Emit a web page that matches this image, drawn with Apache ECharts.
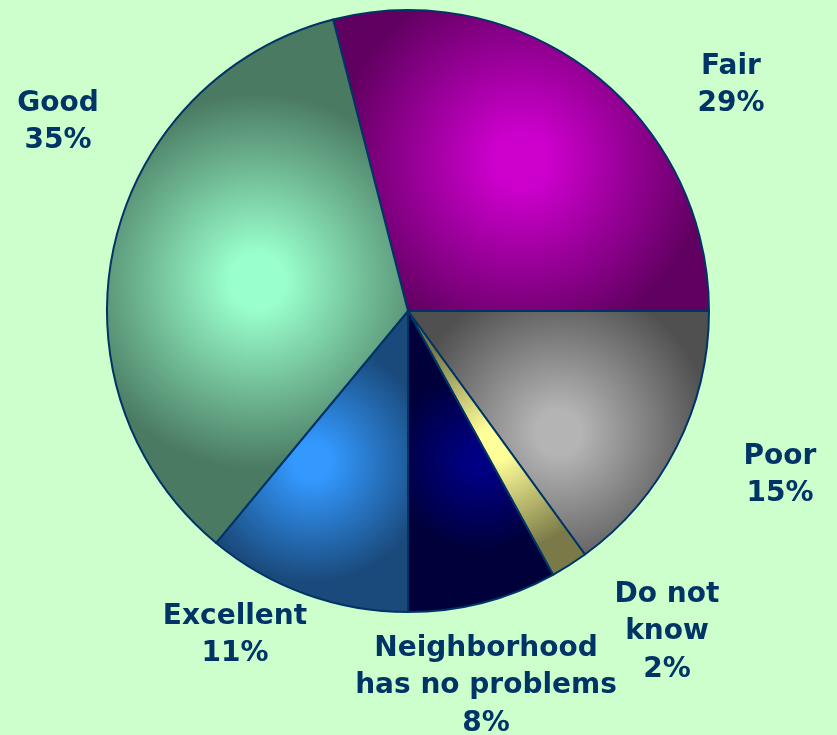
<!DOCTYPE html>
<html>
<head>
<meta charset="utf-8">
<script src="https://cdn.jsdelivr.net/npm/echarts@6/dist/echarts.min.js"></script>
<style>
html,body{margin:0;padding:0;background:#ccffcc;}
#chart{width:837px;height:735px;}
</style>
</head>
<body>
<div id="chart"></div>
<script>
// Data
var categories = ['Fair', 'Poor', 'Do not\nknow', 'Neighborhood\nhas no problems', 'Excellent', 'Good'];
var values = [29, 15, 2, 8, 11, 35];

// Styles (not data)
var centerColors = ['#cc00cc', '#b4b4b4', '#ffff99', '#000082', '#3399ff', '#99ffcc'];
var edgeColors   = ['#600060', '#505050', '#7a7a48', '#00003a', '#1a4a7c', '#4a7a62'];
var labelPos = [[731, 85], [780, 475], [667, 632], [486, 686], [235, 635], [58, 122]];

var chart = echarts.init(document.getElementById('chart'));

var data = categories.map(function (c, i) {
  return {
    name: c,
    value: values[i],
    itemStyle: {
      color: {
        type: 'radial', x: 0.5, y: 0.5, r: 0.62,
        colorStops: [
          { offset: 0, color: centerColors[i] },
          { offset: 0.15, color: centerColors[i] },
          { offset: 1, color: edgeColors[i] }
        ]
      }
    }
  };
});

chart.setOption({
  backgroundColor: '#ccffcc',
  animation: false,
  series: [{
    type: 'pie',
    center: [408, 311],
    radius: 301,
    startAngle: 104.4,
    clockwise: true,
    data: data,
    itemStyle: { borderColor: '#003366', borderWidth: 2 },
    label: {
      show: true,
      position: 'outside',
      formatter: '{b}\n{c}%',
      color: '#003366',
      fontFamily: 'DejaVu Sans',
      fontWeight: 'bold',
      fontSize: 28,
      lineHeight: 37.5,
      align: 'center',
      overflow: 'none'
    },
    labelLine: { show: false },
    labelLayout: function (p) {
      var pos = labelPos[p.dataIndex];
      return { x: pos[0], y: pos[1], align: 'center', verticalAlign: 'middle' };
    },
    emphasis: { disabled: true }
  }]
});
</script>
</body>
</html>
